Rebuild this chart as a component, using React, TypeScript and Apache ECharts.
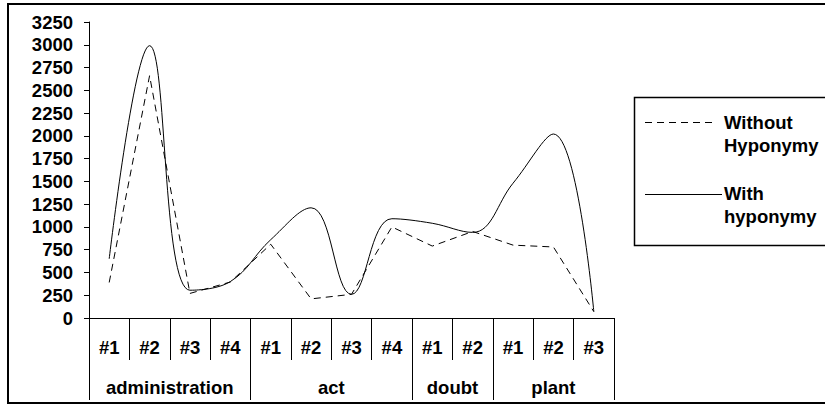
import React, { useEffect, useRef } from "react";
import * as echarts from "echarts";

const categories = ["#1", "#2", "#3", "#4", "#1", "#2", "#3", "#4", "#1", "#2", "#1", "#2", "#3"];
const groupNames = ["administration", "act", "doubt", "plant"];
const groupSizes = [4, 4, 2, 3];
const withoutHyponymy = [390, 2660, 270, 395, 810, 210, 260, 1000, 790, 950, 800, 780, 70];
const withHyponymy = [650, 2990, 305, 400, 860, 1210, 260, 1090, 1040, 940, 1480, 2020, 70];
const yTicks = { min: 0, max: 3250, interval: 250 };

const FONT = "Arial, 'Liberation Sans', sans-serif";
const FS = 18.5;

export default function App() {
  const ref = useRef<HTMLDivElement>(null);
  useEffect(() => {
    if (!ref.current) return;
    const chart = echarts.init(ref.current, undefined, { renderer: "svg" });
    const bounds: number[] = [0];
    groupSizes.forEach((s) => bounds.push(bounds[bounds.length - 1] + s));
    const centers = groupSizes.map((s, i) => bounds[i] + s / 2);
    const textStyle = { fontFamily: FONT, fontWeight: "bold" as const, fontSize: FS, color: "#000" };
    chart.setOption({
      animation: false,
      backgroundColor: "#fff",
      grid: { left: 89, right: 211, top: 22, bottom: 87, containLabel: false },
      xAxis: [
        {
          type: "category",
          data: categories,
          position: "bottom",
          boundaryGap: true,
          axisLine: { show: true, lineStyle: { color: "#000", width: 1 } },
          axisTick: { show: true, interval: 0, length: 42, lineStyle: { color: "#000", width: 1 } },
          axisLabel: { interval: 0, margin: 29, verticalAlign: "middle", ...textStyle },
          splitLine: { show: false },
        },
        {
          type: "value",
          min: 0,
          max: bounds[bounds.length - 1],
          position: "bottom",
          offset: 0,
          axisLine: { show: false },
          axisTick: { show: true, length: 82, customValues: bounds, lineStyle: { color: "#000", width: 1 } },
          axisLabel: {
            show: true,
            customValues: centers,
            margin: 69,
            verticalAlign: "middle",
            formatter: (v: number) => {
              const i = centers.findIndex((c) => Math.abs(c - v) < 1e-6);
              return i >= 0 ? groupNames[i] : "";
            },
            ...textStyle,
          },
          splitLine: { show: false },
        },
      ],
      yAxis: {
        type: "value",
        min: yTicks.min,
        max: yTicks.max,
        interval: yTicks.interval,
        axisLine: { show: true, lineStyle: { color: "#000", width: 1 } },
        axisTick: { show: true, length: 5, lineStyle: { color: "#000" } },
        axisLabel: { margin: 16, formatter: (v: number) => String(v), ...textStyle },
        splitLine: { show: false },
      },
      series: [
        {
          name: "Without Hyponymy",
          type: "line",
          xAxisIndex: 0,
          data: withoutHyponymy,
          symbol: "none",
          smooth: false,
          lineStyle: { color: "#000", width: 1, type: [7, 5] },
        },
        {
          name: "With hyponymy",
          type: "line",
          xAxisIndex: 0,
          data: withHyponymy,
          symbol: "none",
          smooth: 0.4,
          lineStyle: { color: "#000", width: 1, type: "solid" },
        },
      ],
      graphic: [
        {
          type: "rect",
          shape: { x: 8, y: 4, width: 830, height: 399 },
          style: { fill: "none", stroke: "#000", lineWidth: 2 },
          silent: true,
        },
        {
          type: "rect",
          shape: { x: 634.5, y: 97.5, width: 200, height: 148 },
          style: { fill: "#fff", stroke: "#000", lineWidth: 1.5 },
          silent: true,
        },
        {
          type: "line",
          shape: { x1: 645, y1: 122.5, x2: 715, y2: 122.5 },
          style: { stroke: "#000", lineWidth: 1, lineDash: [7, 5] },
        },
        {
          type: "line",
          shape: { x1: 645, y1: 194.5, x2: 722, y2: 194.5 },
          style: { stroke: "#000", lineWidth: 1 },
        },
        { type: "text", x: 724, y: 122, style: { text: "Without", font: `bold ${FS}px ${FONT}`, fill: "#000", verticalAlign: "middle" } },
        { type: "text", x: 724, y: 145, style: { text: "Hyponymy", font: `bold ${FS}px ${FONT}`, fill: "#000", verticalAlign: "middle" } },
        { type: "text", x: 724, y: 193, style: { text: "With", font: `bold ${FS}px ${FONT}`, fill: "#000", verticalAlign: "middle" } },
        { type: "text", x: 724, y: 216, style: { text: "hyponymy", font: `bold ${FS}px ${FONT}`, fill: "#000", verticalAlign: "middle" } },
      ],
    });
    return () => chart.dispose();
  }, []);
  return <div ref={ref} style={{ position: "absolute", left: 0, top: 0, width: 825, height: 405, background: "#fff" }} />;
}
